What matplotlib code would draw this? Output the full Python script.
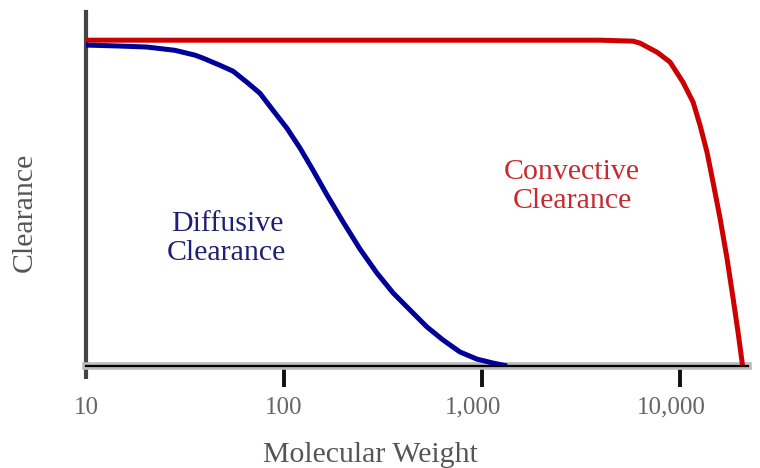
import matplotlib
matplotlib.use("Agg")
import matplotlib.pyplot as plt
import matplotlib.transforms as mtransforms
import numpy as np

# (molecular weight, relative clearance)
diff_mw = [10, 14.9, 20.3, 28.1, 35.6, 39, 47.5, 55.3, 65, 75.7, 88, 103.5, 120.5, 138.4, 165,
           199, 242, 295, 356, 433, 527, 635, 774, 944, 1137, 1340]
diff_cl = [0.985, 0.982, 0.979, 0.969, 0.954, 0.945, 0.923, 0.905, 0.871, 0.837, 0.785, 0.730,
           0.669, 0.607, 0.525, 0.442, 0.359, 0.285, 0.224, 0.172, 0.120, 0.080, 0.043, 0.021,
           0.009, 0.0]
conv_mw = [10, 100, 1000, 3945, 5800, 6280, 7660, 8900, 10350, 11640, 12620, 13690, 14680,
           15920, 17260, 18520, 19630, 20700]
conv_cl = [1.0, 1.0, 1.0, 1.0, 0.997, 0.991, 0.963, 0.933, 0.871, 0.810, 0.739, 0.656, 0.564,
           0.454, 0.331, 0.209, 0.104, 0.0]
xticks = [10, 100, 1000, 10000]
xtick_labels = ["10", "100", "1,000", "10,000"]

plt.rcParams['font.family'] = ['Liberation Serif', 'DejaVu Serif']

fig = plt.figure(figsize=(7.6, 4.68), dpi=100)
ax = fig.add_axes([0.113, 0.218, 0.871, 0.756])

ax.plot(conv_mw, conv_cl, color="#cc0000", lw=3.6, solid_capstyle="butt",
        solid_joinstyle="round", zorder=3)
ax.plot(diff_mw, diff_cl, color="#000099", lw=3.6, solid_capstyle="butt",
        solid_joinstyle="round", zorder=4)

ax.set_xscale("log")
ax.set_xlim(10, 22000)
ax.set_ylim(0, 1.086)

# axes styling
for s in ["top", "right"]:
    ax.spines[s].set_visible(False)
ax.spines["left"].set_color("#444444")
ax.spines["left"].set_linewidth(3)
ax.spines["bottom"].set_color("#bbbbbb")
ax.spines["bottom"].set_linewidth(5.5)
ax.axhline(0, color="black", lw=1.6, zorder=5, clip_on=False)
ax.plot([10, 10], [0, -0.04], color="#444444", lw=3, clip_on=False, solid_capstyle="butt")

ax.set_yticks([])
ax.set_xticks(xticks)
ax.set_xticklabels(xtick_labels)
ax.minorticks_off()
ax.tick_params(axis="x", direction="out", length=15, width=2.8, color="#111111",
               labelsize=18, labelcolor="#666666", pad=7)
ax.get_xticklines()[0].set_visible(False)
# labels with commas sit a little left of their ticks in the original
shift = mtransforms.ScaledTranslation(-0.09, 0, fig.dpi_scale_trans)
for lab in ax.get_xticklabels()[2:]:
    lab.set_transform(lab.get_transform() + shift)

ax.text(51.5, 0.39, "Diffusive\nClearance", color="#1f1f75", fontsize=21.5,
        ha="center", va="center", linespacing=1.15)
ax.text(2850, 0.55, "Convective\nClearance", color="#c42a2f", fontsize=21.5,
        ha="center", va="center", linespacing=1.15)

fig.text(370 / 760, 1 - 455 / 468, "Molecular Weight", color="#555555", fontsize=21.5,
         ha="center", va="center")
fig.text(25 / 760, 1 - 212 / 468, "Clearance", color="#555555", fontsize=21.5,
         ha="center", va="center", rotation=90)

fig.savefig("out.png", dpi=100)
